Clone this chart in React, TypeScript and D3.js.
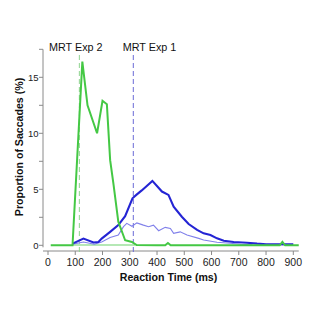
import React from "react";
import * as d3 from "d3";

const greenMs = [10, 50, 90, 126, 145, 180, 200, 216, 228, 240, 258, 283, 308, 325, 400, 430, 440, 450, 600, 850, 860, 870, 920];
const greenVal = [0, 0, 0, 16.4, 12.5, 10.0, 12.9, 12.6, 7.6, 5.5, 2.1, 0.45, 0.3, 0.02, 0, 0, 0.2, 0, 0, 0, 0.3, 0, 0];

const paleGreenMs = [90, 150, 200, 250, 300, 320];
const paleGreenVal = [0.02, 0.02, 0.02, 0.02, 0.02, 0.02];

const blueMs = [90, 130, 167, 185, 197, 228, 258, 283, 310, 324, 344, 383, 418, 442, 461, 491, 516, 547, 571, 596, 620, 645, 681, 730, 767, 800, 900];
const blueVal = [0.15, 0.6, 0.25, 0.3, 0.6, 1.2, 1.8, 2.6, 4.2, 4.5, 4.9, 5.75, 4.8, 4.5, 3.45, 2.55, 1.9, 1.37, 1.07, 0.92, 0.62, 0.41, 0.3, 0.23, 0.15, 0.1, 0.08];

const thinMs = [90, 130, 170, 197, 228, 258, 277, 289, 308, 326, 350, 369, 387, 406, 430, 449, 461, 485, 510, 553, 571, 620, 669, 706, 750];
const thinVal = [0.1, 0.3, 0.1, 0.3, 0.7, 0.92, 1.66, 1.96, 1.7, 2.0, 1.8, 1.66, 1.8, 1.3, 1.6, 1.5, 1.07, 1.2, 0.92, 0.62, 0.47, 0.27, 0.18, 0.1, 0.05];

const xTicks = [0, 100, 200, 300, 400, 500, 600, 700, 800, 900];
const yTicks = [0, 5, 10, 15];
const yMinorTicks = [2.5, 7.5, 12.5, 17.5];

const mrtExp2 = 115;
const mrtExp1 = 313;
const mrtLabels = ["MRT Exp 2", "MRT Exp 1"];

export default function App() {
  const x = d3.scaleLinear().domain([0, 900]).range([48, 293.3]);
  const y = d3.scaleLinear().domain([0, 17.5]).range([245.3, 49.3]);
  const line = (ms: number[], v: number[]) =>
    d3.line<number>().x((_, i) => x(ms[i])).y((d) => y(d))(v) || "";

  const axisColor = "#8a8a8a";
  const font = "'Liberation Sans', Arial, Helvetica, sans-serif";
  const xAxisY = 251;
  const yAxisX = 43;

  return (
    <svg width={322} height={321} style={{ position: "absolute", left: 0, top: 0, background: "#fff" }} fontFamily={font}>
      {/* y axis */}
      <line x1={yAxisX} x2={yAxisX} y1={y(17.5)} y2={y(0) + 2} stroke={axisColor} strokeWidth={1} />
      {[...yTicks, ...yMinorTicks].map((t) => (
        <line key={"yt" + t} x1={yAxisX - 4} x2={yAxisX} y1={y(t)} y2={y(t)} stroke={axisColor} strokeWidth={1} />
      ))}
      {yTicks.map((t) => (
        <text key={"yl" + t} x={yAxisX - 4.5} y={y(t)} dy="0.35em" textAnchor="end" fontSize={9.5} fill="#222">
          {t}
        </text>
      ))}
      {/* x axis */}
      <line x1={yAxisX} x2={x(920)} y1={xAxisY} y2={xAxisY} stroke={axisColor} strokeWidth={1} />
      {xTicks.map((t) => (
        <line key={"xt" + t} x1={x(t)} x2={x(t)} y1={xAxisY} y2={xAxisY + 4} stroke={axisColor} strokeWidth={1} />
      ))}
      {xTicks.map((t) => (
        <text key={"xl" + t} x={x(t)} y={xAxisY + 14.5} textAnchor="middle" fontSize={10.5} fill="#222">
          {t}
        </text>
      ))}
      <text x={168.5} y={281} textAnchor="middle" fontSize={10.6} fontWeight="bold" fill="#111">
        Reaction Time (ms)
      </text>
      <text transform="translate(22.5,147) rotate(-90)" textAnchor="middle" fontSize={10.6} fontWeight="bold" fill="#111">
        Proportion of Saccades (%)
      </text>

      {/* MRT markers */}
      <line x1={x(mrtExp2)} x2={x(mrtExp2)} y1={55} y2={y(0) + 8} stroke="#8fd48f" strokeWidth={1} strokeDasharray="5,3" />
      <line x1={x(mrtExp1)} x2={x(mrtExp1)} y1={55} y2={y(0) + 8} stroke="#6b6bd6" strokeWidth={1} strokeDasharray="5,3" />
      <text x={49} y={51} fontSize={10.8} fill="#111">{mrtLabels[0]}</text>
      <text x={122.7} y={51} fontSize={10.8} fill="#111">{mrtLabels[1]}</text>

      {/* series */}
      <path d={line(paleGreenMs, paleGreenVal)} fill="none" stroke="#b5e8b5" strokeWidth={2} />
      <path d={line(thinMs, thinVal)} fill="none" stroke="#8080ea" strokeWidth={1.1} />
      <path d={line(blueMs, blueVal)} fill="none" stroke="#2424d4" strokeWidth={2.1} />
      <path d={line(greenMs, greenVal)} fill="none" stroke="#44c844" strokeWidth={2} />
    </svg>
  );
}
